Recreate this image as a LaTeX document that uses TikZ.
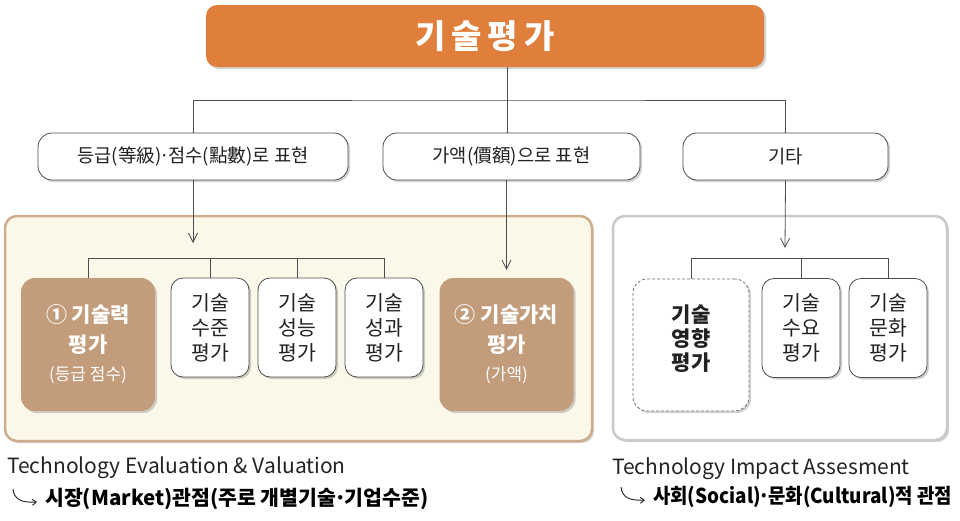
\documentclass[tikz,border=0pt]{standalone}
\usepackage{fontspec}
\setmainfont{Noto Sans CJK KR}
\usetikzlibrary{arrows.meta,shadows}
\definecolor{topcol}{HTML}{E07F3B}
\definecolor{browncol}{HTML}{C29C7B}
\definecolor{creamcol}{HTML}{FBF8EA}
\definecolor{tancol}{HTML}{CFAC8B}
\definecolor{greycol}{HTML}{C9C9C9}
\definecolor{linecol}{HTML}{4D4D4D}
\definecolor{textcol}{HTML}{222222}
\newcommand{\middot}{\kern-0.1em·\kern-0.1em}

\begin{document}
\begin{tikzpicture}[x=1pt,y=-1pt,
    boxshadow/.style={drop shadow={shadow xshift=2pt,shadow yshift=-2pt,opacity=0.18,fill=black}},
    headbox/.style={boxshadow,fill=topcol,rounded corners=11pt,minimum width=558pt,minimum height=62pt,
        text=white,font=\fontsize{33}{33}\selectfont\bfseries},
    kindbox/.style={boxshadow,draw=linecol,line width=0.8pt,fill=white,rounded corners=14pt,
        minimum height=47pt,text=textcol,font=\fontsize{18.7}{20}\selectfont},
    itembox/.style={boxshadow,draw=linecol,line width=0.8pt,fill=white,rounded corners=12pt,
        minimum width=78pt,minimum height=99pt,align=center,text=textcol,font=\fontsize{20.5}{25}\selectfont},
    rankbox/.style={boxshadow,fill=browncol,rounded corners=14pt,minimum width=134pt,minimum height=133pt,
        align=center,text=white,font=\fontsize{21}{30}\selectfont},
    dashbox/.style={boxshadow,draw=linecol!80,line width=0.8pt,dash pattern=on 3pt off 2pt,fill=white,
        rounded corners=14pt,minimum width=116pt,minimum height=132pt,align=center,text=textcol,
        font=\fontsize{21}{24}\selectfont\bfseries},
    bus/.style={draw=linecol,line width=0.8pt},
    arr/.style={bus,-{Straight Barb[length=9pt,width=9pt]}},
    captext/.style={anchor=west,inner sep=0pt,text=textcol,font=\fontsize{21}{22}\selectfont},
    viewtext/.style={anchor=west,inner sep=0pt,text=black,font=\fontsize{20.5}{22}\selectfont\bfseries},
    hookarr/.style={draw=textcol,line width=0.9pt,-{Straight Barb[length=4pt,width=6pt]}}]
\useasboundingbox (0,0) rectangle (960,520);
    % Panels
    \draw[boxshadow,draw=tancol,fill=creamcol,line width=2.5pt,rounded corners=12pt] (5,216) rectangle (592,441);
    \draw[boxshadow,draw=greycol,fill=white,line width=2.5pt,rounded corners=12pt] (613,216) rectangle (947,440);

    % Top
    \node[headbox] (head) at (485,36) {기\hspace{6pt}술\hspace{6pt}평\hspace{6pt}가};
    \node[kindbox,minimum width=310pt] (grade) at (193,156.5) {등급(等級)\middot 점수(點數)로 표현};
    \node[kindbox,minimum width=257pt] (price) at (511.5,156.5) {가액(價額)으로 표현};
    \node[kindbox,minimum width=205pt] (other) at (785.5,156.5) {기타};

    \coordinate (hub) at (507,100);
    \draw[bus] (head.south -| hub) -- (hub);
    \draw[bus] (grade.north) |- (hub) -| (other.north);
    \draw[bus] (hub) -- (hub |- price.north);

    % Left group
    \node[rankbox] (power) at (88,344.5) {\textbf{① 기술력}\\\textbf{평가}\\[-2pt]{\fontsize{17}{20}\selectfont(등급 점수)}};
    \node[itembox] (level) at (210,327.5) {기술\\수준\\평가};
    \node[itembox] (perf) at (297,327.5) {기술\\성능\\평가};
    \node[itembox] (result) at (384,327.5) {기술\\성과\\평가};
    \node[rankbox] (value) at (506.5,344.5) {\textbf{② 기술가치}\\\textbf{평가}\\[-2pt]{\fontsize{17}{20}\selectfont(가액)}};

    \coordinate (busL) at (193,258);
    \coordinate (tipL) at (193,243);
    \draw[arr] (grade.south) -- (tipL);
    \draw[bus] (power.north) |- (result.north |- busL) -- (result.north);
    \foreach \n in {level,perf}
        \draw[bus] (\n.north) -- (\n.north |- busL);
    \draw[arr,shorten >=8pt] (price.south -| value.north) -- (value.north);

    % Right group
    \node[dashbox] (impact) at (691,345) {기술\\영향\\평가\\[-10pt]};
    \node[itembox] (demand) at (801,328) {기술\\수요\\평가};
    \node[itembox] (culture) at (888,328) {기술\\문화\\평가};

    \coordinate (busR) at (785,258);
    \coordinate (tipR) at (785,248);
    \draw[arr] (other.south) -- (tipR);
    \draw[bus] (impact.north) |- (culture.north |- busR) -- (culture.north);
    \draw[bus] (demand.north) -- (demand.north |- busR);

    % Captions
    \node[captext] (evalcap) at (7,468) {Technology Evaluation \& Valuation};
    \node[viewtext] (evalview) at (45,499) {시장(Market)관점(주로 개별기술\middot 기업수준)};
    \draw[hookarr] ([xshift=-32pt,yshift=10pt]evalview.west) .. controls ([xshift=-31pt,yshift=0pt]evalview.west) and ([xshift=-24pt,yshift=-4pt]evalview.west) .. ([xshift=-8pt,yshift=-3pt]evalview.west);
    \node[captext] (impactcap) at (612,469) {Technology Impact Assesment};
    \node[viewtext] (impactview) at (653,497) {\addfontfeature{FakeStretch=0.92}사회(Social)\middot 문화(Cultural)적 관점};
    \draw[hookarr] ([xshift=-32pt,yshift=10pt]impactview.west) .. controls ([xshift=-31pt,yshift=0pt]impactview.west) and ([xshift=-24pt,yshift=-4pt]impactview.west) .. ([xshift=-8pt,yshift=-3pt]impactview.west);
\end{tikzpicture}
\end{document}
